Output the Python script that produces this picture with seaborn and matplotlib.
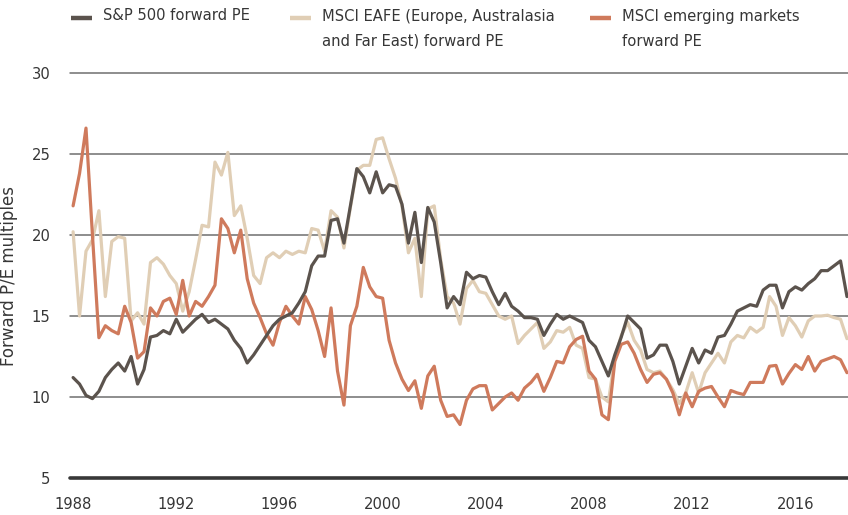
import numpy as np
import pandas as pd
import matplotlib
matplotlib.use("Agg")
import matplotlib.pyplot as plt
import seaborn as sns
from matplotlib.lines import Line2D
from matplotlib import font_manager

# ---------------- data (quarterly, starting 1988 Q1) ----------------
start_year = 1988.0
sp500 = [11.2, 10.8, 10.1, 9.9, 10.35, 11.2, 11.7, 12.1, 11.6, 12.5, 10.8, 11.7, 13.7, 13.8, 14.1, 13.9, 14.8, 14.0, 14.4, 14.8,
         15.1, 14.6, 14.8, 14.5, 14.2, 13.5, 13.0, 12.1, 12.6, 13.2, 13.8, 14.4, 14.8, 15.0, 15.2, 15.8, 16.5, 18.1, 18.7, 18.7,
         20.9, 21.0, 19.5, 21.8, 24.1, 23.6, 22.6, 23.9, 22.6, 23.1, 23.0, 21.9, 19.5, 21.4, 18.3, 21.7, 20.8, 18.3, 15.5, 16.2, 15.7,
         17.7, 17.3, 17.5, 17.4, 16.5, 15.7, 16.4, 15.6, 15.3, 14.9, 14.9, 14.8, 13.8, 14.5, 15.1, 14.8, 15.0, 14.8, 14.6, 13.5,
         13.1, 12.2, 11.3, 12.6, 13.7, 15.0, 14.6, 14.2, 12.4, 12.6, 13.2, 13.2, 12.2, 10.8, 11.9, 13.0, 12.1, 12.9, 12.7, 13.7,
         13.8, 14.5, 15.3, 15.5, 15.7, 15.6, 16.6, 16.9, 16.9, 15.5, 16.5, 16.8, 16.6, 17.0, 17.3, 17.8, 17.8, 18.1, 18.4, 16.2]
eafe = [20.2, 15.0, 19.0, 19.7, 21.5, 16.2, 19.6, 19.9, 19.8, 14.7, 15.2, 14.5, 18.3, 18.6, 18.2, 17.5, 17.0, 15.3, 16.5, 18.5,
        20.6, 20.5, 24.5, 23.7, 25.1, 21.2, 21.8, 19.8, 17.5, 17.0, 18.6, 18.9, 18.6, 19.0, 18.8, 19.0, 18.9, 20.4, 20.3, 19.0,
        21.5, 21.1, 19.2, 21.7, 24.0, 24.3, 24.3, 25.9, 26.0, 24.7, 23.5, 21.8, 18.9, 19.8, 16.2, 21.6, 21.8, 18.5, 16.2, 15.8, 14.5,
        16.7, 17.2, 16.5, 16.4, 15.7, 15.0, 14.8, 15.0, 13.3, 13.8, 14.2, 14.6, 13.0, 13.4, 14.1, 14.0, 14.3, 13.2, 13.0, 11.2,
        11.1, 10.0, 9.7, 12.4, 13.8, 14.6, 13.5, 12.9, 11.7, 11.5, 11.6, 11.1, 10.45, 9.6, 10.25, 11.5, 10.25, 11.5, 12.1, 12.7,
        12.1, 13.4, 13.8, 13.65, 14.3, 14.0, 14.3, 16.2, 15.6, 13.8, 14.9, 14.4, 13.7, 14.7, 15.0, 15.0, 15.05, 14.9, 14.8, 13.6]
em = [21.8, 23.8, 26.6, 20.0, 13.66, 14.4, 14.1, 13.9, 15.6, 14.6, 12.4, 12.8, 15.5, 15.0, 15.9, 16.1, 15.1, 17.2, 15.0, 15.9,
      15.6, 16.2, 16.9, 21.0, 20.4, 18.9, 20.3, 17.3, 15.8, 14.9, 13.9, 13.2, 14.6, 15.6, 15.0, 14.5, 16.2, 15.4, 14.1, 12.5,
      15.5, 11.6, 9.5, 14.4, 15.6, 18.0, 16.8, 16.2, 16.1, 13.5, 12.1, 11.1, 10.4, 11.0, 9.3, 11.3, 11.9, 9.8, 8.8, 8.9, 8.3,
      9.8, 10.5, 10.7, 10.7, 9.2, 9.6, 10.0, 10.25, 9.8, 10.55, 10.9, 11.4, 10.35, 11.2, 12.2, 12.1, 13.1, 13.55, 13.75, 11.6,
      11.1, 8.9, 8.6, 12.2, 13.25, 13.4, 12.7, 11.7, 10.9, 11.4, 11.5, 11.1, 10.25, 8.9, 10.25, 9.4, 10.35, 10.55, 10.65, 10.0,
      9.4, 10.4, 10.25, 10.15, 10.9, 10.9, 10.9, 11.9, 11.95, 10.8, 11.45, 12.0, 11.7, 12.5, 11.6, 12.2, 12.35, 12.5, 12.3, 11.5]

series_labels = ["S&P 500 forward PE",
                 "MSCI EAFE (Europe, Australasia\nand Far East) forward PE",
                 "MSCI emerging markets\nforward PE"]
series_colors = ["#5b534d", "#e0ceb5", "#cf7a5c"]
y_ticks = [5, 10, 15, 20, 25, 30]
x_ticks = [1988, 1992, 1996, 2000, 2004, 2008, 2012, 2016]
y_label = "Forward P/E multiples"

# ---------------- long-form table ----------------
years = start_year + 0.25 * np.arange(len(sp500))
frames = []
for lab, vals in zip(series_labels, [sp500, eafe, em]):
    frames.append(pd.DataFrame({"year": years, "pe": vals, "series": lab}))
df = pd.concat(frames, ignore_index=True)

# ---------------- style ----------------
sns.set_theme(style="white")
plt.rcParams["font.family"] = ["DejaVu Sans"]
plt.rcParams["font.stretch"] = "condensed"

try:
    fpath = font_manager.findfont(font_manager.FontProperties(family="DejaVu Sans", stretch="condensed"))
    condensed = "Condensed" in fpath
except Exception:
    condensed = False
fs = 11.8 if condensed else 10.6
text_color = "#363636"

W, H = 848, 515
fig = plt.figure(figsize=(W / 100, H / 100), dpi=100)
left_px, right_px, top_px, bottom_px = 70, 848, 73, 478
ax = fig.add_axes([left_px / W, 1 - bottom_px / H, (right_px - left_px) / W, (bottom_px - top_px) / H])

for y in y_ticks[1:]:
    ax.axhline(y, color="#6f6f6f", lw=1.1, zorder=0, clip_on=False)
ax.axhline(5, color="#383838", lw=2.6, zorder=5, clip_on=False)

palette = dict(zip(series_labels, series_colors))
draw_order = [series_labels[1], series_labels[2], series_labels[0]]
sns.lineplot(data=df, x="year", y="pe", hue="series", hue_order=draw_order,
             palette=palette, linewidth=2.3, legend=False, ax=ax, zorder=3)

ax.set_xlim(1987.88, 2018.04)
ax.set_ylim(5, 30)
ax.set_xticks(x_ticks)
ax.set_xticklabels([str(t) for t in x_ticks])
ax.set_yticks(y_ticks)
ax.set_yticklabels([str(t) for t in y_ticks])
ax.tick_params(axis="both", length=0, labelsize=fs, colors=text_color)
ax.tick_params(axis="x", pad=14)
ax.tick_params(axis="y", pad=14)
for s in ax.spines.values():
    s.set_visible(False)
ax.set_xlabel("")
ax.set_ylabel(y_label, fontsize=12.0, color=text_color, fontstretch="normal")
ax.yaxis.set_label_coords(-(left_px - 18) / (right_px - left_px), 0.5)

# ---------------- legend (top, manual layout) ----------------
def fx(px):
    return px / W

def fy(py):
    return 1 - py / H

handle_x = [(71, 92), (290, 311), (590, 611)]
text_x = [103, 322, 622]
hy = 18
for (x0, x1), tx, lab, col in zip(handle_x, text_x, series_labels, series_colors):
    fig.add_artist(Line2D([fx(x0), fx(x1)], [fy(hy), fy(hy)], transform=fig.transFigure,
                          color=col, lw=3.2, solid_capstyle="butt"))
    fig.text(fx(tx), fy(8.5), lab, ha="left", va="top", fontsize=fs, color=text_color,
             linespacing=1.85)

fig.savefig("out.png", dpi=100)
